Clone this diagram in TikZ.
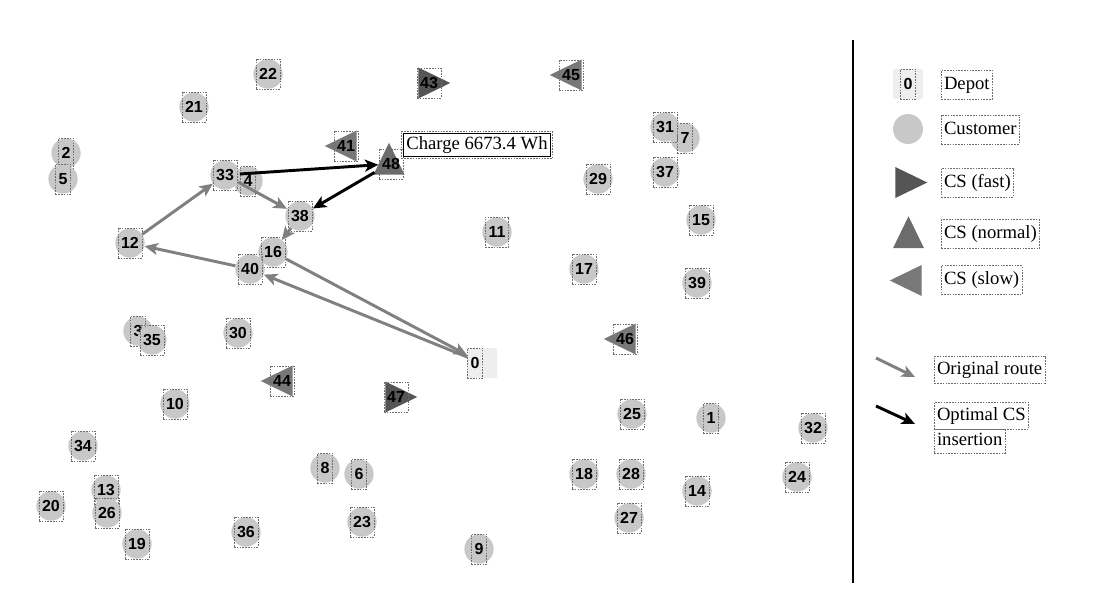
\documentclass[tikz,border=0pt]{standalone}
\usepackage{fontspec}
\setmainfont{Liberation Serif}
\newfontfamily\numfont{Liberation Sans}
\usepackage{tikz}
\usetikzlibrary{arrows.meta, shapes.geometric, fit}
\definecolor{custgray}{RGB}{200, 200, 200}
\definecolor{depotgray}{RGB}{238, 238, 238}
\definecolor{fastgray}{RGB}{85, 85, 85}
\definecolor{normalgray}{RGB}{108, 108, 108}
\definecolor{slowgray}{RGB}{120, 120, 120}
\definecolor{routegray}{RGB}{128, 128, 128}
\definecolor{boxgray}{RGB}{110, 110, 110}

\tikzset{
  cust/.style={circle, fill=custgray, minimum size=22pt, inner sep=0pt},
  depot/.style={rectangle, fill=depotgray, minimum size=22pt, inner sep=0pt},
  station/.style={regular polygon, regular polygon sides=3, minimum size=26.8pt, inner sep=0pt, outer sep=0pt},
  csfast/.style={station, fill=fastgray, regular polygon rotate=-90, xscale=1.19},
  csnormal/.style={station, fill=normalgray, yscale=1.19},
  csslow/.style={station, fill=slowgray, regular polygon rotate=90, xscale=1.19},
  dotbox/.style={draw=boxgray, line width=0.5pt, dash pattern=on 1.2pt off 0.9pt},
  num/.style={dotbox, font=\numfont\bfseries\fontsize{12}{14}\selectfont, inner xsep=2.4pt, inner ysep=0pt, minimum height=22.5pt, text height=8.7pt, text depth=0pt},
  legtxt/.style={dotbox, anchor=west, font=\fontsize{14}{16}\selectfont, inner xsep=2pt, inner ysep=0pt, minimum height=21.5pt, text height=9.8pt, text depth=3pt},
  route/.style={draw=routegray, line width=2.2pt, -{Stealth[length=10pt, width=9pt, inset=2.5pt]}},
  optim/.style={route, draw=black},
}

\begin{document}
\begin{tikzpicture}[x=0.75pt, y=-0.75pt]
    \useasboundingbox (0,0) rectangle (1118,603);

    % Depot
    \node[depot] (dep) at (482,363) {};
    \node[num] (t0) at (475,363) {0};

    % Customers
    \node[cust] (c22) at (268,74) {}; \node[num] (t22) at (c22) {22};
    \node[cust] (c21) at (194,107) {}; \node[num] (t21) at (c21) {21};
    \node[cust] (c2) at (66,153) {}; \node[num] (t2) at (c2) {2};
    \node[cust] (c5) at (63,179) {}; \node[num] (t5) at (c5) {5};
    \node[cust] (c4) at (248,181) {}; \node[num] (t4) at (c4) {4};
    \node[cust] (c33) at (225,175) {}; \node[num] (t33) at (c33) {33};
    \node[cust] (c12) at (130,243) {}; \node[num] (t12) at (c12) {12};
    \node[cust] (c38) at (300,216) {}; \node[num] (t38) at (c38) {38};
    \node[cust] (c16) at (273,252) {}; \node[num] (t16) at (c16) {16};
    \node[cust] (c40) at (250,269) {}; \node[num] (t40) at (c40) {40};
    \node[cust] (c11) at (497,232) {}; \node[num] (t11) at (c11) {11};
    \node[cust] (c3) at (138,331) {}; \node[num] (t3) at (c3) {3};
    \node[cust] (c35) at (152,340) {}; \node[num] (t35) at (c35) {35};
    \node[cust] (c30) at (238,333) {}; \node[num] (t30) at (c30) {30};
    \node[cust] (c10) at (175,404) {}; \node[num] (t10) at (c10) {10};
    \node[cust] (c34) at (83,446) {}; \node[num] (t34) at (c34) {34};
    \node[cust] (c13) at (106,490) {}; \node[num] (t13) at (c13) {13};
    \node[cust] (c26) at (107,513) {}; \node[num] (t26) at (c26) {26};
    \node[cust] (c20) at (51,506) {}; \node[num] (t20) at (c20) {20};
    \node[cust] (c19) at (137,544) {}; \node[num] (t19) at (c19) {19};
    \node[cust] (c36) at (246,532) {}; \node[num] (t36) at (c36) {36};
    \node[cust] (c8) at (325,468) {}; \node[num] (t8) at (c8) {8};
    \node[cust] (c6) at (359,474) {}; \node[num] (t6) at (c6) {6};
    \node[cust] (c23) at (362,522) {}; \node[num] (t23) at (c23) {23};
    \node[cust] (c9) at (479,549) {}; \node[num] (t9) at (c9) {9};
    \node[cust] (c29) at (598,179) {}; \node[num] (t29) at (c29) {29};
    \node[cust] (c7) at (685,138) {}; \node[num] (t7) at (c7) {7};
    \node[cust] (c31) at (665,127) {}; \node[num] (t31) at (c31) {31};
    \node[cust] (c37) at (665,172) {}; \node[num] (t37) at (c37) {37};
    \node[cust] (c15) at (701,220) {}; \node[num] (t15) at (c15) {15};
    \node[cust] (c17) at (584,269) {}; \node[num] (t17) at (c17) {17};
    \node[cust] (c39) at (697,283) {}; \node[num] (t39) at (c39) {39};
    \node[cust] (c25) at (632,414) {}; \node[num] (t25) at (c25) {25};
    \node[cust] (c1) at (711,418) {}; \node[num] (t1) at (c1) {1};
    \node[cust] (c32) at (813,428) {}; \node[num] (t32) at (c32) {32};
    \node[cust] (c18) at (584,474) {}; \node[num] (t18) at (c18) {18};
    \node[cust] (c28) at (631,474) {}; \node[num] (t28) at (c28) {28};
    \node[cust] (c14) at (697,491) {}; \node[num] (t14) at (c14) {14};
    \node[cust] (c24) at (797,477) {}; \node[num] (t24) at (c24) {24};
    \node[cust] (c27) at (629,518) {}; \node[num] (t27) at (c27) {27};

    % Charging stations
    \node[csslow] (s41) at (346,146) {}; \node[num] (t41) at (s41) {41};
    \node[csfast] (s43) at (429,83) {}; \node[num] (t43) at (s43) {43};
    \node[csslow] (s44) at (282,381) {}; \node[num] (t44) at (s44) {44};
    \node[csslow] (s45) at (571,75) {}; \node[num] (t45) at (s45) {45};
    \node[csslow] (s46) at (625,339) {}; \node[num] (t46) at (s46) {46};
    \node[csfast] (s47) at (396,397) {}; \node[num] (t47) at (s47) {47};
    \node[csnormal] (s48) at (389,164) {}; \node[num] (t48) at (391,164) {48};

    % Routes
    \draw[route] (dep) -- (c40);
    \draw[route] (c40) -- (c12);
    \draw[route] (c12) -- (c33);
    \draw[route] (c33) -- (c38);
    \draw[route] (c38) -- (c16);
    \draw[route] (c16) -- (dep);
    \draw[optim] (c33) -- (s48);
    \draw[optim] (s48) -- (c38);

    % Charge label
    \node[draw=black, line width=0.75pt, font=\fontsize{14}{16}\selectfont, inner xsep=2pt, inner ysep=0pt, minimum height=17.5pt, text height=9.8pt, text depth=3pt] (chg) at (477,145) {Charge 6673.4 Wh};
    \node[dotbox, fit=(chg), inner sep=1.2pt] (chgbox) {};

    % Divider
    \draw[line width=2.2pt] (853,40) -- (853,583);

    % Legend
    \node[depot] (lgdep) at (908,84) {}; \node[num] (lgdept) at (908,84) {0};
    \node[legtxt] (lgdeptxt) at (941,84.5) {Depot};
    \node[cust, minimum size=22.5pt] (lgcust) at (908,129) {};
    \node[legtxt] (lgcusttxt) at (941,129.5) {Customer};
    \node[csfast] (lgfast) at (906,182.5) {};
    \node[legtxt] (lgfasttxt) at (941,182.5) {CS (fast)};
    \node[csnormal] (lgnormal) at (908.5,237.5) {};
    \node[legtxt] (lgnormaltxt) at (941,234) {CS (normal)};
    \node[csslow] (lgslow) at (911,280.5) {};
    \node[legtxt] (lgslowtxt) at (941,280) {CS (slow)};

    \coordinate (og1) at (876,358);
    \coordinate (og2) at (915,377);
    \draw[route] (og1) -- (og2);
    \node[legtxt, minimum height=20pt] (lgorig) at (934,369.5) {Original route};
    \coordinate (op1) at (876,406);
    \coordinate (op2) at (915,424);
    \draw[optim] (op1) -- (op2);
    \node[legtxt, minimum height=20.5pt] (lgopt) at (934,416) {Optimal CS};
    \node[legtxt, minimum height=18pt] (lgins) at (934,441) {insertion};
\end{tikzpicture}
\end{document}
